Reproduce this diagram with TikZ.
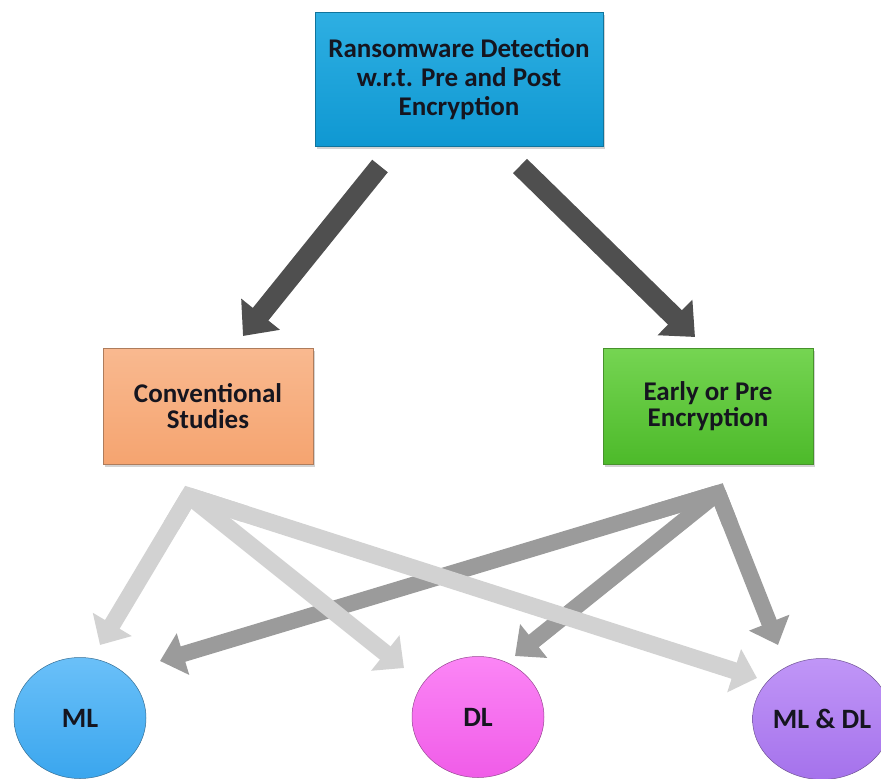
\documentclass[tikz,border=0pt]{standalone}
\usepackage{fontspec}
\setmainfont{Carlito}
\usetikzlibrary{arrows.meta,shadows,shapes.geometric,calc}
\definecolor{topblue}{HTML}{17A6DF}
\definecolor{topblueb}{HTML}{0F98D2}
\definecolor{peach}{HTML}{F8B183}
\definecolor{peachb}{HTML}{F5A470}
\definecolor{grn}{HTML}{66D03F}
\definecolor{grnb}{HTML}{4DBA2A}
\definecolor{mlblue}{HTML}{5AB9F8}
\definecolor{mlblueb}{HTML}{3AA6EE}
\definecolor{pink}{HTML}{FB78F4}
\definecolor{pinkb}{HTML}{F05CE8}
\definecolor{purp}{HTML}{B98AF6}
\definecolor{purpb}{HTML}{A572EC}
\definecolor{txt}{HTML}{15151F}
\definecolor{darkarr}{HTML}{4F4F4F}
\definecolor{midarr}{HTML}{9B9B9B}
\definecolor{lightarr}{HTML}{D2D2D2}
\tikzset{
  boxstyle/.style={draw=#1!70!black, line width=0.6pt, minimum width=210pt, minimum height=116pt,
    align=center, text=txt, font=\bfseries\fontsize{27}{26}\selectfont,
    drop shadow={shadow xshift=2pt, shadow yshift=-3pt, opacity=0.35}},
  bubble/.style={ellipse, draw=#1!60!black, line width=0.5pt, minimum width=132pt, minimum height=121pt,
    inner sep=0pt, text=txt, font=\bfseries\fontsize{28}{28}\selectfont},
  toparrow/.style={draw=darkarr, line width=20pt, -{Triangle[length=28pt,width=48pt]}},
  midshaft/.style={draw=midarr, line width=16pt, line join=miter},
  midarrow/.style={draw=midarr, line width=16pt, -{Triangle[length=24pt,width=42pt]}},
  lightshaft/.style={draw=lightarr, line width=17pt, line join=miter},
  lightarrow/.style={draw=lightarr, line width=17pt, -{Triangle[length=24pt,width=44pt]}},
}
\begin{document}
\begin{tikzpicture}[x=1pt,y=-1pt]
\useasboundingbox (0,0) rectangle (881,779);
% nodes
\node[boxstyle=topblue, minimum width=288pt, minimum height=134pt,
      top color=topblue!90!white, bottom color=topblueb,
      font=\bfseries\fontsize{27}{29}\selectfont] (top) at (459,79)
  {Ransomware Detection\\w.r.t. Pre and Post\\Encryption};
\node[boxstyle=peach, top color=peach!90!white, bottom color=peachb] (conv) at (208,406)
  {Conventional\\Studies};
\node[boxstyle=grn, top color=grn!90!white, bottom color=grnb] (early) at (708,406)
  {Early or Pre\\Encryption};
\node[bubble=mlblue, top color=mlblue!90!white, bottom color=mlblueb] (ml) at (80,718) {ML};
\node[bubble=pink, top color=pink!90!white, bottom color=pinkb] (dl) at (478,717) {DL};
\node[bubble=purp, top color=purp!90!white, bottom color=purpb] (mldl) at (822,719) {ML \& DL};
% connector end points
\coordinate (t1) at (380,166);
\coordinate (t2) at (520,166);
\coordinate (h1) at (243,336);
\coordinate (h2) at (695,337);
\coordinate (cs) at (189,496);
\coordinate (ep) at (718,493);
\coordinate (csml) at (100,645);
\coordinate (csdl) at (404,668);
\coordinate (csmldl) at (757,678);
\coordinate (epml) at (160,661);
\coordinate (epdl) at (515,656);
\coordinate (epmldl) at (778,645);
% top arrows
\draw[toparrow] (t1) -- (h1);
\draw[toparrow] (t2) -- (h2);
% dark grey arrows from Early or Pre Encryption
\draw[midarrow] (ep) -- (epml);
\draw[midarrow] (ep) -- (epdl);
\draw[midarrow] (ep) -- (epmldl);
\draw[midshaft] ($(ep)!0.12!(epml)$) -- (ep) -- ($(ep)!0.2!(epmldl)$);
% light grey arrows from Conventional Studies
\draw[lightarrow] (cs) -- (csml);
\draw[lightarrow] (cs) -- (csdl);
\draw[lightarrow] (cs) -- (csmldl);
\draw[lightshaft] ($(cs)!0.2!(csml)$) -- (cs) -- ($(cs)!0.1!(csmldl)$);
\end{tikzpicture}
\end{document}
